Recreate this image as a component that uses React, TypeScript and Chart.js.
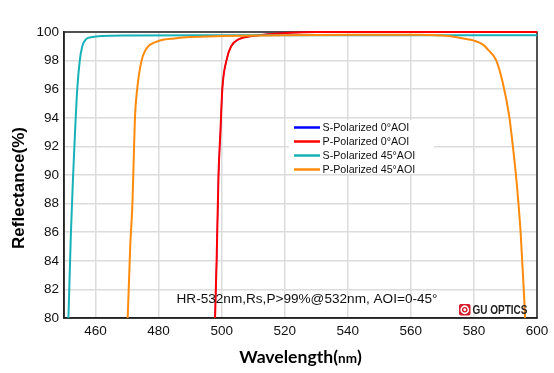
import React, { useEffect, useRef } from "react";
import { Chart, registerables } from "chart.js";

Chart.register(...registerables);

// ---- data (wavelength nm, reflectance %) ----
const s0Wl = [497.6, 497.9, 498.4, 499.0, 499.6, 500.2, 501.5, 503.0, 505.5, 509.0, 515.0, 522.0, 530.0, 560.0, 600.0];
const s0R = [77, 80, 84, 90, 93, 96, 98, 99.0, 99.5, 99.7, 99.85, 99.95, 100, 100, 100];

const p0Wl = [497.6, 497.9, 498.4, 499.0, 499.6, 500.2, 501.5, 503.0, 505.5, 509.0, 515.0, 522.0, 530.0, 560.0, 600.0];
const p0R = [77, 80, 84, 90, 93, 96, 98, 99.0, 99.5, 99.7, 99.85, 99.95, 100, 100, 100];

const s45Wl = [450.8, 451.4, 452.2, 452.9, 453.5, 454.2, 455.0, 455.8, 457.0, 459.0, 462.0, 470.0, 500.0, 600.0];
const s45R = [76, 80, 86, 90, 93, 96, 98, 99.0, 99.5, 99.65, 99.72, 99.76, 99.78, 99.78];

const p45Wl = [469.8, 470.2, 471.0, 471.7, 472.1, 472.5, 473.2, 474.6, 476.0, 477.2, 480.4, 485.0, 490.0, 500.0, 520.0, 545.0, 560.0, 568.0, 572.0, 575.0, 578.0, 580.0, 583.0, 584.5, 587.0, 589.2, 591.2, 592.5, 593.5, 594.8, 595.3, 595.8, 596.2, 596.6];
const p45R = [77, 80, 85, 88, 91, 94, 96, 98, 98.8, 99.1, 99.4, 99.55, 99.65, 99.72, 99.78, 99.8, 99.8, 99.78, 99.72, 99.62, 99.5, 99.4, 99.1, 98.75, 98.05, 96.4, 94.1, 91.7, 89.6, 86, 84, 82, 80, 77];

const xTickValues = [460, 480, 500, 520, 540, 560, 580, 600];

const legendLabels = ["S-Polarized 0°AOI", "P-Polarized 0°AOI", "S-Polarized 45°AOI", "P-Polarized 45°AOI"];
const seriesColors = ["#0000ff", "#ff0000", "#17b1b8", "#ff8a0c"];
const seriesWidths = [1.2, 2, 2, 2];

const noteText = "HR-532nm,Rs,P>99%@532nm, AOI=0-45°";
const brandText = "GU OPTICS";
const yTitle = "Reflectance(%)";
const xTitleMain = "Wavelength(";
const xTitleUnit = "nm";
const xTitleEnd = ")";

const toPoints = (xs: number[], ys: number[]) => xs.map((x, i) => ({ x, y: ys[i] }));

const decorPlugin = {
  id: "decor",
  beforeDatasetsDraw(chart: any) {
    const { ctx, chartArea: a } = chart;
    ctx.save();
    ctx.strokeStyle = "#222";
    ctx.lineWidth = 1.5;
    ctx.strokeRect(a.left, a.top, a.right - a.left, a.bottom - a.top);
    ctx.restore();
  },
  afterDatasetsDraw(chart: any) {
    const { ctx } = chart;
    ctx.save();
    // legend box
    ctx.fillStyle = "#fff";
    ctx.fillRect(289, 120, 145, 54);
    ctx.font = "10.7px 'Liberation Sans', Arial, sans-serif";
    ctx.textBaseline = "middle";
    ctx.textAlign = "left";
    legendLabels.forEach((lab, i) => {
      const y = 127.5 + i * 14;
      ctx.strokeStyle = seriesColors[i];
      ctx.lineWidth = 2.5;
      ctx.beginPath();
      ctx.moveTo(294, y);
      ctx.lineTo(320, y);
      ctx.stroke();
      ctx.fillStyle = "#111";
      ctx.fillText(lab, 322.5, y + 0.5);
    });
    // note text
    ctx.font = "13.6px 'Liberation Sans', Arial, sans-serif";
    ctx.fillStyle = "#111";
    ctx.textBaseline = "alphabetic";
    ctx.fillText(noteText, 176.5, 303);
    // logo icon
    ctx.fillStyle = "#d7192a";
    const lx = 459, ly = 304, ls = 11.5;
    ctx.beginPath();
    if ((ctx as any).roundRect) (ctx as any).roundRect(lx, ly, ls, ls, 2);
    else ctx.rect(lx, ly, ls, ls);
    ctx.fill();
    ctx.strokeStyle = "#fff";
    ctx.lineWidth = 1.6;
    ctx.beginPath();
    ctx.arc(lx + ls / 2, ly + ls / 2, 3.6, 0, Math.PI * 2);
    ctx.stroke();
    ctx.fillStyle = "#fff";
    ctx.beginPath();
    ctx.arc(lx + ls / 2, ly + ls / 2, 1.4, 0, Math.PI * 2);
    ctx.fill();
    ctx.fillStyle = "#222";
    ctx.font = "bold 12px 'Liberation Sans', Arial, sans-serif";
    ctx.fillText(brandText, 472.5, 314, 55);
    ctx.restore();
  },
  afterDraw(chart: any) {
    const { ctx } = chart;
    ctx.save();
    ctx.fillStyle = "#000";
    // y title
    ctx.translate(24, 188);
    ctx.rotate(-Math.PI / 2);
    ctx.font = "bold 17px 'Liberation Sans', Arial, sans-serif";
    ctx.textAlign = "center";
    ctx.textBaseline = "alphabetic";
    ctx.fillText(yTitle, 0, 0);
    ctx.restore();
    // x title
    ctx.save();
    ctx.fillStyle = "#000";
    ctx.textBaseline = "alphabetic";
    ctx.textAlign = "left";
    const f1 = "bold 17.6px Lato, 'Open Sans', sans-serif";
    const f2 = "bold 13.5px Lato, 'Open Sans', sans-serif";
    ctx.font = f1;
    const w1 = ctx.measureText(xTitleMain).width;
    const w3 = ctx.measureText(xTitleEnd).width;
    ctx.font = f2;
    const w2 = ctx.measureText(xTitleUnit).width;
    let x = 300.5 - (w1 + w2 + w3) / 2;
    const y = 363;
    ctx.font = f1;
    ctx.fillText(xTitleMain, x, y);
    x += w1;
    ctx.font = f2;
    ctx.fillText(xTitleUnit, x, y);
    x += w2;
    ctx.font = f1;
    ctx.fillText(xTitleEnd, x, y);
    ctx.restore();
  },
};

export default function App() {
  const ref = useRef<HTMLCanvasElement>(null);
  useEffect(() => {
    const canvas = ref.current!;
    const mk = (i: number, xs: number[], ys: number[], order: number) => ({
      label: legendLabels[i],
      data: toPoints(xs, ys),
      borderColor: seriesColors[i],
      backgroundColor: seriesColors[i],
      borderWidth: seriesWidths[i],
      pointRadius: 0,
      cubicInterpolationMode: "monotone" as const,
      fill: false,
      order,
      clip: { left: 0, right: 1, top: 3, bottom: 0 },
    });
    const chart = new Chart(canvas, {
      type: "line",
      data: {
        datasets: [
          mk(0, s0Wl, s0R, 3),
          mk(1, p0Wl, p0R, 2),
          mk(2, s45Wl, s45R, 1),
          mk(3, p45Wl, p45R, 0),
        ],
      },
      plugins: [decorPlugin],
      options: {
        animation: false,
        responsive: false,
        devicePixelRatio: 1,
        layout: { padding: { top: 32, right: 17, left: 0, bottom: 0 } },
        plugins: { legend: { display: false }, tooltip: { enabled: false } },
        scales: {
          x: {
            type: "linear",
            min: 450,
            max: 600,
            afterBuildTicks: (scale: any) => {
              scale.ticks = xTickValues.map((v) => ({ value: v }));
            },
            afterFit: (scale: any) => {
              scale.height = 55;
            },
            grid: { color: "#dcdcdc", lineWidth: 1.5, drawTicks: false },
            border: { display: true, color: "#222", width: 1.5 },
            ticks: {
              padding: 5,
              color: "#111",
              font: { family: "'Liberation Sans', Arial, sans-serif", size: 13.5 },
              maxRotation: 0,
            },
          },
          y: {
            min: 80,
            max: 100,
            afterFit: (scale: any) => {
              scale.width = 64;
            },
            grid: { color: "#dcdcdc", lineWidth: 1.5, drawTicks: false },
            border: { display: true, color: "#222", width: 1.5 },
            ticks: {
              stepSize: 2,
              padding: 5,
              color: "#111",
              font: { family: "'Liberation Sans', Arial, sans-serif", size: 13.5 },
            },
          },
        },
      },
    });
    return () => chart.destroy();
  }, []);
  return (
    <div style={{ position: "fixed", left: 0, top: 0, width: 554, height: 373, background: "#fff" }}>
      <canvas ref={ref} width={554} height={373} style={{ display: "block" }} />
    </div>
  );
}
